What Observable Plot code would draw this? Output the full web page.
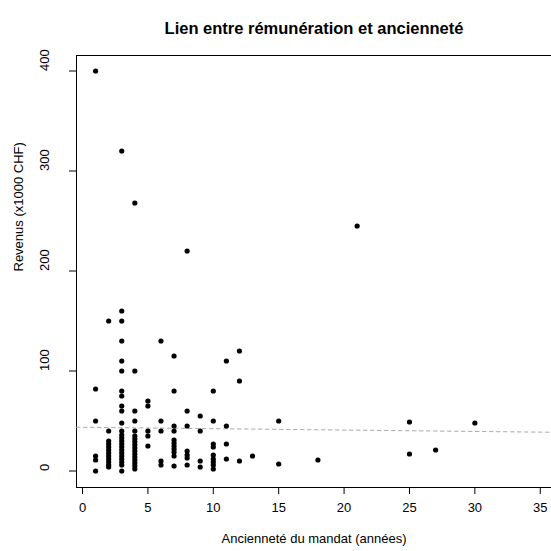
<!DOCTYPE html>
<html>
<head>
<meta charset="utf-8">
<script src="https://cdn.jsdelivr.net/npm/d3@7"></script>
<script src="https://cdn.jsdelivr.net/npm/@observablehq/plot@0.6"></script>
<style>
  html, body { margin: 0; padding: 0; background: #fff; }
  #chart svg { display: block; }
</style>
</head>
<body>
<div id="chart"></div>
<script>
// Ancienneté du mandat (années) and observed revenues (x1000 CHF) for each year value
const annees = [1, 2, 3, 4, 5, 6, 7, 8, 9, 10, 11, 12, 13, 15, 18, 21, 25, 27, 30];
const revenusParAnnee = [
  [400, 82, 50, 15, 11, 0],
  [150, 40, 30, 27, 24, 21, 18, 15, 12, 9, 6, 4],
  [320, 160, 150, 130, 110, 100, 80, 75, 65, 60, 48, 40, 36, 33, 30, 27, 24, 21, 18, 15, 12, 9, 6, 0],
  [268, 100, 60, 50, 40, 35, 32, 29, 26, 23, 20, 17, 14, 11, 8, 5, 2],
  [70, 65, 40, 35, 25],
  [130, 50, 40, 10, 6],
  [115, 80, 45, 40, 31, 28, 25, 22, 19, 15, 5],
  [220, 60, 45, 20, 16, 13, 6],
  [55, 40, 10, 4],
  [80, 50, 27, 24, 16, 12, 9, 6, 2],
  [110, 45, 27, 12],
  [120, 90, 10],
  [15],
  [50, 7],
  [11],
  [245],
  [49, 17],
  [21],
  [48]
];
// Regression line (abline) coefficients
const regression = { intercept: 43.7, slope: -0.138 };

const xTicks = [0, 5, 10, 15, 20, 25, 30, 35];
const yTicks = [0, 100, 200, 300, 400];

const titre = "Lien entre rémunération et ancienneté";
const labelX = "Ancienneté du mandat (années)";
const labelY = "Revenus (x1000 CHF)";

// Build table
const points = annees.flatMap((a, i) => revenusParAnnee[i].map(r => ({ annee: a, revenu: r })));

const xDomain = [-0.46, 35.86];
const yDomain = [-16.5, 415.5];
const regLine = xDomain.map(x => ({ x, y: regression.intercept + regression.slope * x }));

const font = "'Liberation Sans', Arial, Helvetica, sans-serif";

const chart = Plot.plot({
  width: 551,
  height: 551,
  marginLeft: 76,
  marginTop: 55,
  marginRight: 0,
  marginBottom: 64,
  style: { fontFamily: font, background: "#fff", color: "#000" },
  x: { domain: xDomain, axis: null },
  y: { domain: yDomain, axis: null },
  marks: [
    // box (top, left, bottom)
    Plot.ruleY([yDomain[1]], { stroke: "#000", strokeWidth: 1 }),
    Plot.ruleY([yDomain[0]], { stroke: "#000", strokeWidth: 1 }),
    Plot.ruleX([xDomain[0]], { stroke: "#000", strokeWidth: 1 }),
    // axes ticks
    Plot.axisX({ ticks: xTicks, tickSize: 7, tickPadding: 8, fontSize: 13, label: null, stroke: "#000", color: "#000" }),
    Plot.axisY({ ticks: yTicks, tickSize: 7, tickFormat: () => "", label: null, stroke: "#000" }),
    Plot.text(yTicks, { y: d => d, frameAnchor: "left", dx: -32, rotate: -90, text: d => String(d), fontSize: 13, fill: "#000" }),
    // regression line
    Plot.line(regLine, { x: "x", y: "y", stroke: "#aaa", strokeWidth: 1, strokeDasharray: "3.5,3.5", clip: true }),
    // points
    Plot.dot(points, { x: "annee", y: "revenu", r: 2.6, fill: "#000", stroke: null }),
    // title and labels
    Plot.text([titre], { frameAnchor: "top", dy: -33, text: d => d, fontSize: 16.5, fontWeight: "bold", fill: "#000" }),
    Plot.text([labelX], { frameAnchor: "bottom", dy: 55, text: d => d, fontSize: 13, fill: "#000" }),
    Plot.text([labelY], { frameAnchor: "left", dx: -58, rotate: -90, text: d => d, fontSize: 13, fill: "#000" })
  ]
});

document.getElementById("chart").appendChild(chart);
</script>
</body>
</html>
